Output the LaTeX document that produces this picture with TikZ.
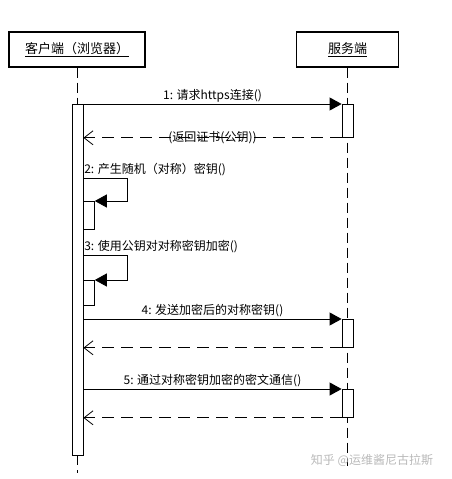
\documentclass[tikz,border=0pt]{standalone}
\usepackage{fontspec}
\setmainfont{Noto Sans CJK SC}
\usetikzlibrary{arrows.meta, positioning}

\begin{document}
\begin{tikzpicture}[x=1pt, y=-1pt,
    lifebox/.style={draw, line width=1.4pt, minimum height=35pt, inner sep=0pt,
                    font=\fontsize{13}{15}\selectfont},
    actbar/.style={draw, fill=white, line width=0.8pt, minimum width=11pt,
                   inner sep=0pt},
    lifeline/.style={line width=0.8pt, dash pattern=on 10pt off 5pt},
    msg/.style={line width=0.8pt, -{Triangle[length=12pt,width=13pt]}},
    reply/.style={line width=0.8pt, dash pattern=on 12pt off 7pt,
                  -{Straight Barb[length=9pt,width=14pt]}},
    lbl/.style={font=\fontsize{12}{14}\selectfont, inner sep=1.5pt}
]
    \useasboundingbox (0,0) rectangle (452,479);

    \node[lifebox, minimum width=136pt] (client) at (77,49.5) {\underline{客户端（浏览器）}};
    \node[lifebox, minimum width=102pt] (server) at (347.5,49.5) {\underline{服务端}};

    % lifelines
    \draw[lifeline] (server.south) -- ++(0,398);
    \draw[lifeline] (client.south) -- (77,104);
    \draw[lifeline] (77,455) -- (77,473);

    % activation bars
    \node[actbar, minimum height=351pt, anchor=north] (cbar) at (77.5,104) {};
    \node[actbar, minimum height=33pt, anchor=north] (sbar1) at (347.5,104) {};
    \node[actbar, minimum height=28pt, anchor=north] (sbar4) at (347.5,319) {};
    \node[actbar, minimum height=28pt, anchor=north] (sbar5) at (347.5,389) {};
    \node[actbar, minimum height=28pt, anchor=north west] (nbar2) at (83,201) {};
    \node[actbar, minimum height=25pt, anchor=north west] (nbar3) at (83,280) {};

    \coordinate (s2) at (cbar.east |- 0,178);
    \coordinate (s3) at (cbar.east |- 0,255);
    \coordinate (m4) at (cbar.east |- sbar4.north);
    \coordinate (m5) at (cbar.east |- sbar5.north);

    % messages
    \draw[msg] (cbar.north east) -- node[lbl, above] {1: 请求https连接()} (sbar1.north west);
    \draw[reply] (sbar1.south west) -- node[lbl] {(返回证书(公钥))} (cbar.east |- sbar1.south);

    \draw[msg] (s2) node[lbl, above right, xshift=-1pt] {2: 产生随机（对称）密钥()}
        -- ++(44,0) |- (nbar2.north east);
    \draw[msg] (s3) node[lbl, above right, xshift=-1pt] {3: 使用公钥对对称密钥加密()}
        -- ++(44,0) |- (nbar3.north east);

    \draw[msg] (m4) -- node[lbl, above] {4: 发送加密后的对称密钥()} (sbar4.north west);
    \draw[reply] (sbar4.south west) -- (cbar.east |- sbar4.south);

    \draw[msg] (m5) -- node[lbl, above] {5: 通过对称密钥加密的密文通信()} (sbar5.north west);
    \draw[reply] (sbar5.south west) -- (cbar.east |- sbar5.south);

    \node[font=\fontsize{12}{14}\selectfont, text=gray!55] (mark) at (372,460) {知乎 @运维酱尼古拉斯};
\end{tikzpicture}
\end{document}
